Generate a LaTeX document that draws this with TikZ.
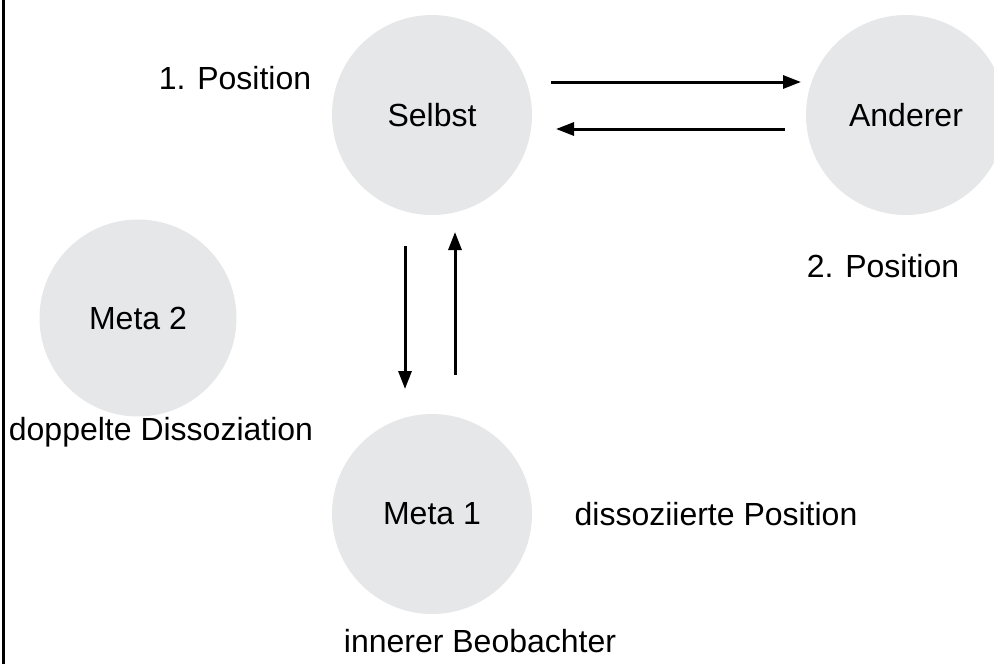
\documentclass[tikz,border=0pt]{standalone}
\usepackage{fontspec}
\setmainfont{Liberation Sans}
\usetikzlibrary{arrows.meta}
\definecolor{circgray}{HTML}{E6E7E8}
\begin{document}
\begin{tikzpicture}[x=1pt,y=-1pt,
  circ/.style={circle,fill=circgray,minimum size=200pt,inner sep=0pt,font=\fontsize{32}{38}\selectfont},
  lbl/.style={inner sep=0pt,font=\fontsize{32}{38}\selectfont},
  arr/.style={line width=3pt,-{Triangle[length=18pt,width=13pt]}}]
\useasboundingbox (0,0) rectangle (994,664);
\draw[line width=3pt] (3,0) -- (3,664);
\node[circ] (selbst) at (432,115) {Selbst};
\node[circ] (anderer) at (906,115) {Anderer};
\node[circ,minimum size=197pt] (meta2) at (138,318) {Meta 2};
\node[circ] (meta1) at (432,514) {Meta 1};
\node[lbl] (p1) at (235,78) {1. Position};
\node[lbl] (p2) at (883,266) {2. Position};
\node[lbl] (dd) at (161,432) {doppelte Dissoziation};
\node[lbl] (dp) at (716,514) {dissoziierte Position};
\node[lbl] (ib) at (480,641) {innerer Beobachter};
\coordinate (a1s) at (551,82); \coordinate (a1e) at (801,82);
\coordinate (a2s) at (785,129); \coordinate (a2e) at (556,129);
\coordinate (a3s) at (405,246); \coordinate (a3e) at (405,389);
\coordinate (a4s) at (455,375); \coordinate (a4e) at (455,232);
\draw[arr] (a1s) -- (a1e);
\draw[arr] (a2s) -- (a2e);
\draw[arr] (a3s) -- (a3e);
\draw[arr] (a4s) -- (a4e);
\end{tikzpicture}
\end{document}
